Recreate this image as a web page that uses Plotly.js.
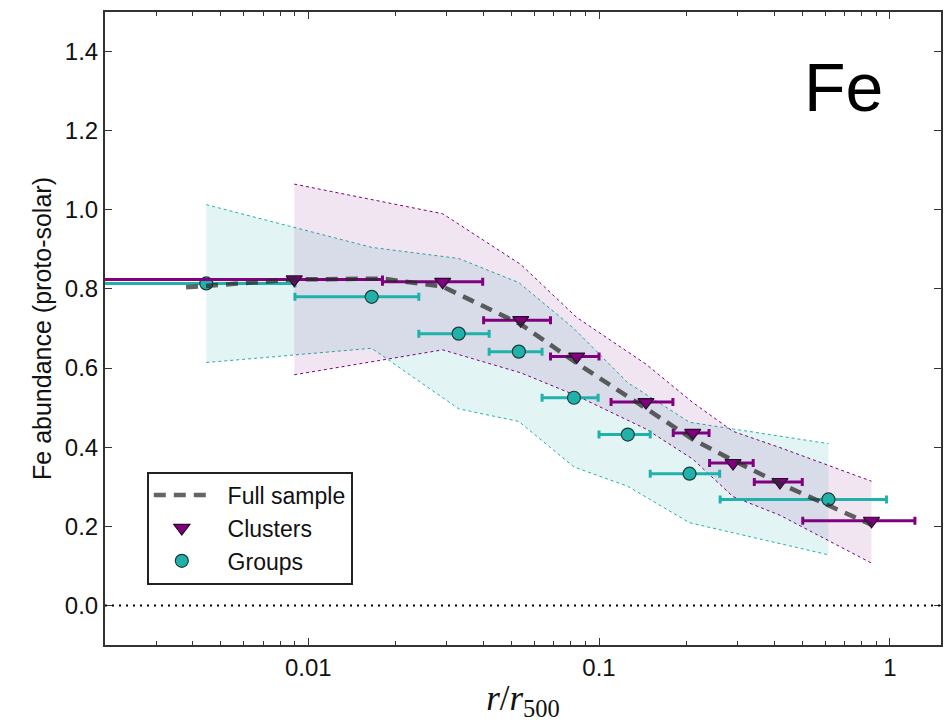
<!DOCTYPE html>
<html>
<head>
<meta charset="utf-8">
<script src="https://cdn.plot.ly/plotly-3.0.1.min.js"></script>
<style>html,body{margin:0;padding:0;background:#fff;}#chart{width:949px;height:722px;}</style>
</head>
<body>
<div id="chart"></div>
<script>
// Clusters (r/r500 bin centres, Fe abundance, bin edges)
const clusterX   = [0.00895, 0.0290, 0.0538, 0.0838, 0.145, 0.210, 0.289, 0.419, 0.865];
const clusterY   = [0.824, 0.818, 0.721, 0.629, 0.514, 0.436, 0.360, 0.312, 0.214];
const clusterXLo = [0.0015, 0.018, 0.0401, 0.0681, 0.110, 0.180, 0.240, 0.342, 0.502];
const clusterXHi = [0.018, 0.0398, 0.0681, 0.100, 0.1795, 0.239, 0.339, 0.500, 1.22];
const clusterUp  = [1.065, 0.990, 0.862, 0.728, 0.610, 0.513, 0.440, 0.399, 0.314];
const clusterLow = [0.583, 0.646, 0.588, 0.530, 0.446, 0.370, 0.275, 0.228, 0.107];

// Groups
const groupX   = [0.00446, 0.01653, 0.0329, 0.0530, 0.082, 0.1256, 0.2048, 0.615];
const groupY   = [0.814, 0.780, 0.687, 0.6415, 0.525, 0.432, 0.333, 0.268];
const groupXLo = [0.0015, 0.0090, 0.0240, 0.0419, 0.0637, 0.100, 0.150, 0.261];
const groupXHi = [0.0090, 0.0240, 0.0419, 0.0637, 0.0993, 0.150, 0.260, 0.974];
const groupUp  = [1.013, 0.905, 0.877, 0.816, 0.700, 0.563, 0.463, 0.409];
const groupLow = [0.614, 0.650, 0.497, 0.465, 0.350, 0.301, 0.209, 0.128];

// Full sample
const fullX = [0.0038, 0.0090, 0.018, 0.029, 0.054, 0.084, 0.145, 0.210, 0.289, 0.419, 0.865];
const fullY = [0.804, 0.824, 0.826, 0.806, 0.710, 0.612, 0.498, 0.420, 0.367, 0.308, 0.204];

// Axis ticks
const xTickVals = [0.01, 0.1, 1];
const xTickText = ['0.01', '0.1', '1'];
const yTickVals = [0.0, 0.2, 0.4, 0.6, 0.8, 1.0, 1.2, 1.4];

const PURPLE = '#800080', TEAL = '#20b2aa';
const minus = (c, lo) => c.map((v, i) => v - lo[i]);
const plus  = (c, hi) => c.map((v, i) => hi[i] - v);

const font = '"Liberation Sans", Arial, Helvetica, sans-serif';
const pad = '\u00a0\u00a0';

const traces = [
  {x: groupX, y: groupLow, mode: 'lines', line: {color: TEAL, width: 1, dash: 'dot'}, showlegend: false, hoverinfo: 'skip'},
  {x: groupX, y: groupUp, mode: 'lines', fill: 'tonexty', fillcolor: 'rgba(32,178,170,0.13)', line: {color: TEAL, width: 1, dash: 'dot'}, showlegend: false, hoverinfo: 'skip'},
  {x: clusterX, y: clusterLow, mode: 'lines', line: {color: PURPLE, width: 1, dash: 'dot'}, showlegend: false, hoverinfo: 'skip'},
  {x: clusterX, y: clusterUp, mode: 'lines', fill: 'tonexty', fillcolor: 'rgba(128,0,128,0.10)', line: {color: PURPLE, width: 1, dash: 'dot'}, showlegend: false, hoverinfo: 'skip'},
  {name: pad + 'Groups', x: groupX, y: groupY, mode: 'markers', legendrank: 3,
   marker: {symbol: 'circle', size: 13, color: TEAL, line: {color: '#1d3b38', width: 1.2}},
   error_x: {type: 'data', symmetric: false, array: plus(groupX, groupXHi), arrayminus: minus(groupX, groupXLo), color: TEAL, thickness: 3, width: 4}},
  {name: pad + 'Clusters', x: clusterX, y: clusterY, mode: 'markers', legendrank: 2,
   marker: {symbol: 'triangle-down', size: 14, color: PURPLE, line: {color: '#2a0a2a', width: 1.2}},
   error_x: {type: 'data', symmetric: false, array: plus(clusterX, clusterXHi), arrayminus: minus(clusterX, clusterXLo), color: PURPLE, thickness: 3, width: 4}},
  {name: pad + 'Full sample', x: fullX, y: fullY, mode: 'lines', legendrank: 1,
   line: {color: 'rgba(40,40,40,0.72)', width: 4.5, dash: '12px,8px'}}
];

const axisCommon = {
  showline: true, linecolor: '#333', linewidth: 2, mirror: 'ticks',
  ticks: 'inside', ticklen: 7, tickwidth: 1, tickcolor: '#333',
  showgrid: false, zeroline: false,
  tickfont: {family: font, size: 24, color: '#111'}
};

const layout = {
  width: 949, height: 722,
  margin: {l: 105, r: 8, t: 12, b: 77},
  paper_bgcolor: '#fff', plot_bgcolor: '#fff',
  font: {family: font, color: '#111'},
  xaxis: Object.assign({}, axisCommon, {
    type: 'log', range: [Math.log10(0.002), Math.log10(1.5)],
    tickmode: 'array', tickvals: xTickVals, ticktext: xTickText,
    minor: {dtick: 'D1', ticks: 'inside', ticklen: 4, tickcolor: '#333', tickwidth: 1, showgrid: false},
    title: {text: '<i>r</i>/<i>r</i><sub>500</sub>', font: {family: '"Liberation Serif", "DejaVu Serif", serif', size: 35, color: '#111'}, standoff: 10}
  }),
  yaxis: Object.assign({}, axisCommon, {
    range: [-0.1, 1.5], tickmode: 'array', tickvals: yTickVals, tickformat: '.1f',
    title: {text: 'Fe abundance (proto-solar)', font: {family: font, size: 25, color: '#111'}, standoff: 6}
  }),
  shapes: [
    {type: 'line', xref: 'paper', x0: 0, x1: 1, yref: 'y', y0: 0, y1: 0, line: {color: '#000', width: 2, dash: '2px,5px'}}
  ],
  annotations: [
    {text: 'Fe', xref: 'paper', yref: 'paper', x: 0.883, y: 0.882, xanchor: 'center', yanchor: 'middle', showarrow: false,
     font: {family: font, size: 68, color: '#000'}}
  ],
  legend: {
    x: 0.05, y: 0.274, xanchor: 'left', yanchor: 'top', traceorder: 'normal',
    bgcolor: '#fff', bordercolor: '#222', borderwidth: 2, itemwidth: 56,
    font: {family: font, size: 23, color: '#111'},
    tracegroupgap: 0
  }
};

Plotly.newPlot('chart', traces, layout, {staticPlot: true});
</script>
</body>
</html>
